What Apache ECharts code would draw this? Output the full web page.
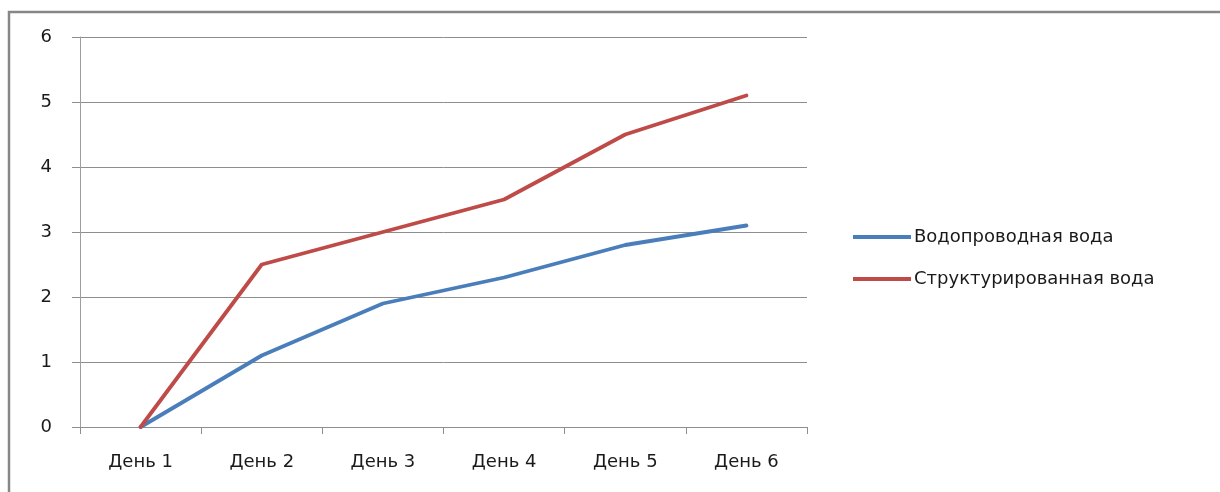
<!DOCTYPE html>
<html>
<head>
<meta charset="utf-8">
<script src="https://cdn.jsdelivr.net/npm/echarts@6/dist/echarts.min.js"></script>
<style>
  html, body { margin: 0; padding: 0; background: #fff; }
  #chart { width: 1220px; height: 492px; }
</style>
</head>
<body>
<div id="chart"></div>
<script>
// Days of observation
const days = ['День 1', 'День 2', 'День 3', 'День 4', 'День 5', 'День 6'];
// Tap water
const tapWater = [0, 1.1, 1.9, 2.3, 2.8, 3.1];
// Structured water
const structuredWater = [0, 2.5, 3.0, 3.5, 4.5, 5.1];
const seriesNames = ['Водопроводная вода', 'Структурированная вода'];

const font = 'DejaVu Sans, sans-serif';
const textColor = '#1a1a1a';
const chart = echarts.init(document.getElementById('chart'));
chart.setOption({
  animation: false,
  backgroundColor: '#fff',
  graphic: [{
    type: 'rect',
    shape: { x: 9, y: 12, width: 1240, height: 500 },
    style: { fill: 'none', stroke: '#878787', lineWidth: 2.5 },
    silent: true
  }],
  grid: { left: 80, right: 413, top: 37, bottom: 65 },
  legend: {
    orient: 'vertical',
    left: 848,
    top: 223,
    itemWidth: 58,
    itemHeight: 4,
    itemGap: 24,
    data: seriesNames.map(n => ({ name: n, icon: 'path://M0,0 L58,0 L58,4 L0,4 Z' })),
    textStyle: { fontFamily: font, fontSize: 18, color: textColor, padding: [0, 0, 0, -2] }
  },
  xAxis: {
    type: 'category',
    data: days,
    boundaryGap: true,
    axisLine: { lineStyle: { color: '#8e8e8e', width: 1 } },
    axisTick: { show: true, length: 7, lineStyle: { color: '#8e8e8e' } },
    axisLabel: { fontFamily: font, fontSize: 18, color: textColor, margin: 26 },
    splitLine: { show: false }
  },
  yAxis: {
    type: 'value',
    min: 0,
    max: 6,
    interval: 1,
    axisLine: { show: true, lineStyle: { color: '#9e9e9e', width: 1 } },
    axisTick: { show: true, length: 8, lineStyle: { color: '#8e8e8e' } },
    axisLabel: { fontFamily: font, fontSize: 18, color: textColor, margin: 28 },
    splitLine: { show: true, lineStyle: { color: '#8e8e8e', width: 1 } }
  },
  series: [
    {
      name: seriesNames[0],
      type: 'line',
      data: tapWater,
      color: '#4A7EBB',
      symbol: 'none',
      lineStyle: { width: 3.8, cap: 'round', join: 'round' }
    },
    {
      name: seriesNames[1],
      type: 'line',
      data: structuredWater,
      color: '#BE4B48',
      symbol: 'none',
      lineStyle: { width: 3.8, cap: 'round', join: 'round' }
    }
  ]
});
</script>
</body>
</html>
